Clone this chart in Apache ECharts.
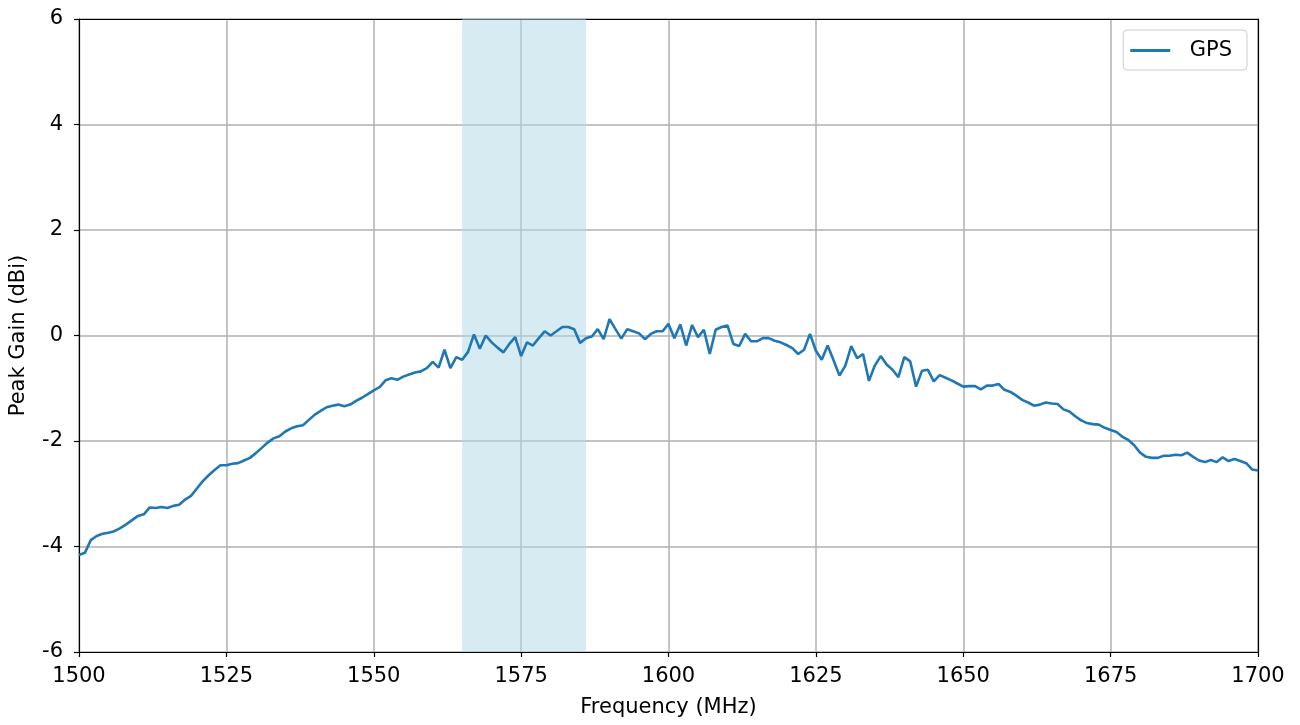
<!DOCTYPE html>
<html>
<head>
<meta charset="utf-8">
<script src="https://cdn.jsdelivr.net/npm/echarts@6/dist/echarts.min.js"></script>
<style>html,body{margin:0;padding:0;background:#fff}#c{width:1300px;height:725px}</style>
</head>
<body>
<div id="c"></div>
<script>
const startFreq = 1500; // MHz, 1 MHz step
const gainGPS = [
-4.16,-4.12,-3.88,-3.80,-3.76,-3.74,-3.71,-3.65,-3.58,-3.50,
-3.42,-3.39,-3.26,-3.27,-3.25,-3.27,-3.23,-3.21,-3.11,-3.04,
-2.90,-2.76,-2.65,-2.55,-2.46,-2.46,-2.43,-2.42,-2.37,-2.32,
-2.23,-2.13,-2.03,-1.95,-1.91,-1.82,-1.76,-1.72,-1.70,-1.60,
-1.50,-1.43,-1.36,-1.33,-1.31,-1.34,-1.31,-1.24,-1.18,-1.11,
-1.04,-0.98,-0.85,-0.81,-0.84,-0.78,-0.74,-0.70,-0.68,-0.62,
-0.50,-0.61,-0.27,-0.62,-0.41,-0.46,-0.31,0.02,-0.25,0.00,
-0.13,-0.23,-0.32,-0.16,-0.03,-0.39,-0.13,-0.19,-0.05,0.08,
0.00,0.08,0.16,0.16,0.12,-0.14,-0.05,-0.02,0.12,-0.07,
0.31,0.12,-0.06,0.12,0.08,0.04,-0.07,0.03,0.08,0.08,
0.22,-0.05,0.21,-0.19,0.20,-0.03,0.11,-0.35,0.11,0.16,
0.19,-0.16,-0.20,0.03,-0.11,-0.11,-0.05,-0.05,-0.10,-0.13,
-0.18,-0.24,-0.35,-0.27,0.03,-0.29,-0.46,-0.19,-0.47,-0.76,
-0.57,-0.20,-0.43,-0.35,-0.86,-0.57,-0.39,-0.55,-0.65,-0.79,
-0.41,-0.49,-0.97,-0.67,-0.65,-0.87,-0.75,-0.80,-0.85,-0.91,
-0.97,-0.96,-0.96,-1.02,-0.95,-0.95,-0.92,-1.03,-1.07,-1.14,
-1.22,-1.27,-1.33,-1.31,-1.27,-1.29,-1.30,-1.40,-1.44,-1.53,
-1.61,-1.66,-1.68,-1.69,-1.75,-1.79,-1.83,-1.92,-1.98,-2.08,
-2.22,-2.30,-2.32,-2.32,-2.28,-2.28,-2.26,-2.27,-2.22,-2.30,
-2.37,-2.40,-2.36,-2.40,-2.31,-2.38,-2.34,-2.38,-2.42,-2.54,
-2.56
];
const band = [1565, 1586];
const xTicks = [1500, 1700, 25];
const yTicks = [-6, 6, 2];
const seriesName = 'GPS';

const points = gainGPS.map((v, i) => [startFreq + i, v]);
const font = 'DejaVu Sans';
const fs = 21;
const spine = {show: true, onZero: false, lineStyle: {color: '#000', width: 1.2}};
const chart = echarts.init(document.getElementById('c'), null, {renderer: 'canvas'});
chart.setOption({
  animation: false,
  backgroundColor: '#fff',
  grid: {left: 79, right: 42, top: 19, bottom: 73},
  legend: {
    data: [{name: seriesName, icon: 'path://M0,0 L40,0 L40,3 L0,3 Z'}],
    right: 53, top: 30, orient: 'vertical',
    backgroundColor: 'rgba(255,255,255,0.8)',
    borderColor: '#cccccc', borderWidth: 1, borderRadius: 4,
    padding: [8, 15, 7, 7], itemWidth: 47, itemHeight: 3, itemGap: 6,
    textStyle: {fontFamily: font, fontSize: fs, color: '#000', lineHeight: 25, padding: [0, 0, 0, 11]}
  },
  xAxis: [{
    type: 'value', min: xTicks[0], max: xTicks[1], interval: xTicks[2],
    name: 'Frequency (MHz)', nameLocation: 'middle', nameGap: 45,
    nameTextStyle: {fontFamily: font, fontSize: fs, color: '#000'},
    axisLine: spine,
    axisTick: {show: true, inside: false, length: 5, lineStyle: {color: '#000', width: 1.2}},
    axisLabel: {fontFamily: font, fontSize: fs, color: '#000', margin: 14, formatter: v => String(v)},
    splitLine: {show: true, lineStyle: {color: '#b0b0b0', width: 1.5}}
  }, {
    type: 'value', position: 'top', min: xTicks[0], max: xTicks[1],
    axisLine: spine, axisTick: {show: false}, axisLabel: {show: false}, splitLine: {show: false}
  }],
  yAxis: [{
    type: 'value', min: yTicks[0], max: yTicks[1], interval: yTicks[2],
    name: 'Peak Gain (dBi)', nameLocation: 'middle', nameGap: 50,
    nameTextStyle: {fontFamily: font, fontSize: fs, color: '#000'},
    axisLine: spine,
    axisTick: {show: true, inside: false, length: 5, lineStyle: {color: '#000', width: 1.2}},
    axisLabel: {fontFamily: font, fontSize: fs, color: '#000', margin: 16},
    splitLine: {show: true, lineStyle: {color: '#b0b0b0', width: 1.5}}
  }, {
    type: 'value', position: 'right', min: yTicks[0], max: yTicks[1],
    axisLine: spine, axisTick: {show: false}, axisLabel: {show: false}, splitLine: {show: false}
  }],
  series: [{
    name: seriesName, type: 'line', data: points, showSymbol: false, symbol: 'none',
    lineStyle: {color: '#1f77b4', width: 2.6}, itemStyle: {color: '#1f77b4'},
    markArea: {
      silent: true,
      itemStyle: {color: 'rgba(173,216,230,0.5)'},
      data: [[{xAxis: band[0]}, {xAxis: band[1]}]]
    }
  }]
});
</script>
</body>
</html>
